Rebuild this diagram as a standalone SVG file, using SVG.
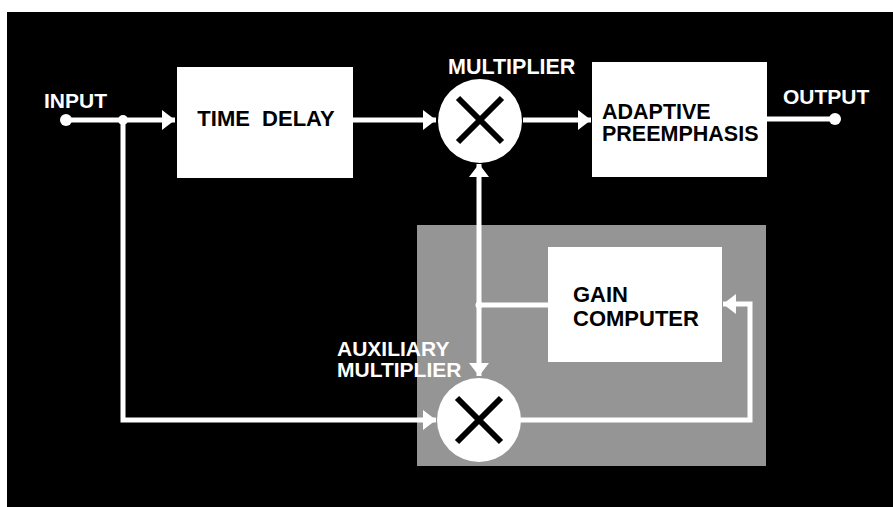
<svg xmlns="http://www.w3.org/2000/svg" width="893" height="507" viewBox="0 0 893 507">
  <defs>
    <marker id="arr" markerUnits="userSpaceOnUse" markerWidth="13" markerHeight="20" refX="13" refY="10" orient="auto">
      <path d="M0,0 L13,10 L0,20 Z" fill="#fff"/>
    </marker>
  </defs>
  <style>
    .box{fill:#fff}
    .lbl{font-family:"Liberation Sans",Arial,sans-serif;font-weight:bold;font-size:22px}
    .wt{fill:#fff}
    .bk{fill:#000}
    .ln{stroke:#fff;stroke-width:5;fill:none}
    .x{stroke:#000;stroke-width:6;stroke-linecap:butt}
  </style>
  <rect x="0" y="0" width="893" height="507" fill="#fff"/>
  <rect x="7" y="12" width="886" height="495" fill="#000"/>
  <rect id="aux-region" x="417" y="225" width="349" height="241" fill="#959595"/>

  <g id="connectors">
    <path class="ln" d="M66,120 H175" marker-end="url(#arr)"/>
    <path class="ln" d="M123,120 V420 H436" marker-end="url(#arr)"/>
    <path class="ln" d="M353,120 H436" marker-end="url(#arr)"/>
    <path class="ln" d="M523,120 H591" marker-end="url(#arr)"/>
    <path class="ln" d="M767,119 H835"/>
    <path class="ln" d="M479,305 V164" marker-end="url(#arr)"/>
    <path class="ln" d="M479,305 V376" marker-end="url(#arr)"/>
    <path class="ln" d="M479,305 H548"/>
    <path class="ln" d="M520,420 H750 V304 H723" marker-end="url(#arr)"/>
    <circle cx="66" cy="120" r="6" fill="#fff"/>
    <circle cx="123" cy="120" r="5" fill="#fff"/>
    <circle cx="835" cy="119" r="6" fill="#fff"/>
    <circle cx="479" cy="305" r="3.5" fill="#fff"/>
  </g>

  <g id="input">
    <text class="lbl wt" x="44" y="108" style="font-size:21px">INPUT</text>
  </g>
  <g id="output">
    <text class="lbl wt" x="783" y="104" style="font-size:21px">OUTPUT</text>
  </g>

  <g id="time-delay">
    <rect class="box" x="177" y="67" width="176" height="111"/>
    <text class="lbl bk" x="266" y="126" text-anchor="middle" xml:space="preserve">TIME  DELAY</text>
  </g>

  <g id="multiplier">
    <circle cx="480" cy="121" r="42" fill="#fff"/>
    <path class="x" d="M458,98 L502,142 M502,98 L458,142"/>
    <text class="lbl wt" x="448" y="74" style="font-size:21.5px">MULTIPLIER</text>
  </g>

  <g id="adaptive-preemphasis">
    <rect class="box" x="592" y="62" width="175" height="115"/>
    <text class="lbl bk" x="602" y="119" style="font-size:21.5px">ADAPTIVE</text>
    <text class="lbl bk" x="602" y="141" style="font-size:21.5px">PREEMPHASIS</text>
  </g>

  <g id="gain-computer">
    <rect class="box" x="548" y="247" width="174" height="115"/>
    <text class="lbl bk" x="573" y="302">GAIN</text>
    <text class="lbl bk" x="573" y="326">COMPUTER</text>
  </g>

  <g id="auxiliary-multiplier">
    <circle cx="479" cy="420" r="42" fill="#fff"/>
    <path class="x" d="M457,398 L501,442 M501,398 L457,442"/>
    <text class="lbl wt" x="337" y="356" style="font-size:21px">AUXILIARY</text>
    <text class="lbl wt" x="337" y="377" style="font-size:21px">MULTIPLIER</text>
  </g>
</svg>
